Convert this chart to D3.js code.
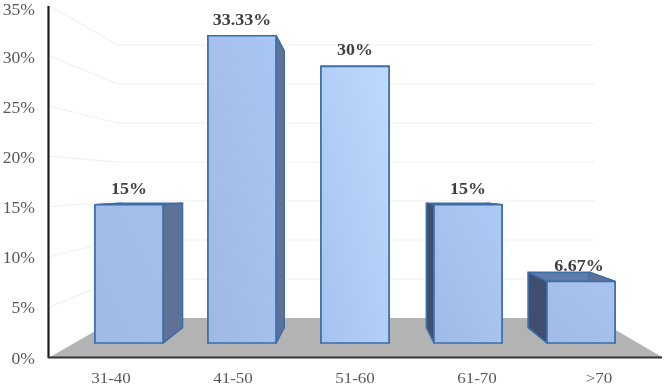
<!DOCTYPE html>
<html><head><meta charset="utf-8">
<script src="https://cdn.jsdelivr.net/npm/d3@7/dist/d3.min.js"></script>
<style>html,body{margin:0;padding:0;background:#fff}svg{display:block}text{font-family:"Liberation Serif",serif}</style>
</head><body><svg id="c" width="665" height="387"></svg>
<script>
const categories = ["31-40","41-50","51-60","61-70",">70"];
const values = [15,33.33,30,15,6.67];
const valueLabels = ["15%","33.33%","30%","15%","6.67%"];
const ticks = [0,5,10,15,20,25,30,35];
const fills = [["#a3bfea","#9fbae5"],["#a9c5f1","#9ebae4"],["#bedaff","#a6c3ee"],["#adc9f5","#9fbbe5"],["#a7c3ee","#a0bbe6"]];

const svg = d3.select("#c");
const yFront = d3.scaleLinear().domain([0,35]).range([357,6]);
const yBack  = d3.scaleLinear().domain([0,35]).range([318,45]);
const yBar   = d3.scaleLinear().domain([0,35]).range([343,20.3]);
const xBar = d3.scaleBand().domain(categories).range([72.5,637.5]).paddingInner(45/113).paddingOuter(22.5/113);
const xLab = d3.scaleBand().domain(categories).range([50,660]);
const vp=[358,190],k=0.1;
const back=(x,y)=>[x+(vp[0]-x)*k,y+(vp[1]-y)*k];
const poly=p=>p.map(q=>q.join(",")).join(" ");
const wide=(x,y,sx)=>`translate(${x},${y}) scale(${sx},1)`;

const defs=svg.append("defs");
defs.append("filter").attr("id","soft").attr("x","-2%").attr("y","-2%").attr("width","104%").attr("height","104%")
  .append("feGaussianBlur").attr("stdDeviation",0.45);
fills.forEach((f,i)=>{
  const g=defs.append("linearGradient").attr("id","g"+i).attr("x1","1").attr("y1","0").attr("x2","0").attr("y2","1");
  g.append("stop").attr("offset","0").attr("stop-color",f[0]);
  g.append("stop").attr("offset","1").attr("stop-color",f[1]);
});
const root=svg.append("g").attr("filter","url(#soft)");

// floor
root.append("polygon").attr("fill","#b3b3b3")
  .attr("points",poly([[50,yFront(0)],[118,yBack(0)],[595,yBack(0)],[662,yFront(0)]]));

// gridlines
root.append("g").selectAll("polyline").data(ticks.filter(t=>t>0)).join("polyline")
  .attr("fill","none").attr("stroke","#f0f0f0").attr("stroke-width",1.2)
  .attr("points",t=>poly([[50,yFront(t)],[118,yBack(t)],[595,yBack(t)]]));

// axes
root.append("line").attr("x1",48.5).attr("x2",48.5).attr("y1",6).attr("y2",358).attr("stroke","#1f1f1f").attr("stroke-width",2.2);
root.append("line").attr("x1",48).attr("x2",662).attr("y1",357.5).attr("y2",357.5).attr("stroke","#333333").attr("stroke-width",2);

// tick labels
root.append("g").selectAll("text").data(ticks).join("text")
  .attr("transform",t=>wide(35,Math.max(yFront(t)+6.5,14.5),1.1)).attr("text-anchor","end")
  .attr("font-size",16).attr("fill","#595959").text(t=>t+"%");
root.append("g").selectAll("text").data(categories).join("text")
  .attr("transform",c=>wide(xLab(c)+xLab.bandwidth()/2,383,1.1)).attr("text-anchor","middle")
  .attr("font-size",15.5).attr("fill","#595959").text(c=>c);

// bars
const edge="#3d6ea8";
const bars=root.append("g").selectAll("g").data(categories).join("g");
bars.each(function(c,i){
  const g=d3.select(this);
  const x0=xBar(c),x1=x0+xBar.bandwidth(),y0=yBar(0),y1=yBar(values[i]);
  const face=(pts,fill)=>g.append("polygon").attr("points",poly(pts)).attr("fill",fill)
    .attr("stroke",edge).attr("stroke-width",1.6).attr("stroke-linejoin","round");
  face([[x0,y1],[x1,y1],back(x1,y1),back(x0,y1)],"#5f7cab");
  face([[x0,y1],[x0,y0],back(x0,y0),back(x0,y1)],"#3f4f70");
  face([[x1,y1],[x1,y0],back(x1,y0),back(x1,y1)],"#5f7196");
  face([[x0,y1],[x1,y1],[x1,y0],[x0,y0]],`url(#g${i})`);
});

// value labels
root.append("g").selectAll("text").data(categories).join("text")
  .attr("transform",(c,i)=>wide(xBar(c)+xBar.bandwidth()/2-(i===4?2:0),yBar(values[i])-11,1.09))
  .attr("text-anchor","middle").attr("font-size",16.5).attr("font-weight","bold").attr("fill","#404040")
  .text((c,i)=>valueLabels[i]);
</script></body></html>
